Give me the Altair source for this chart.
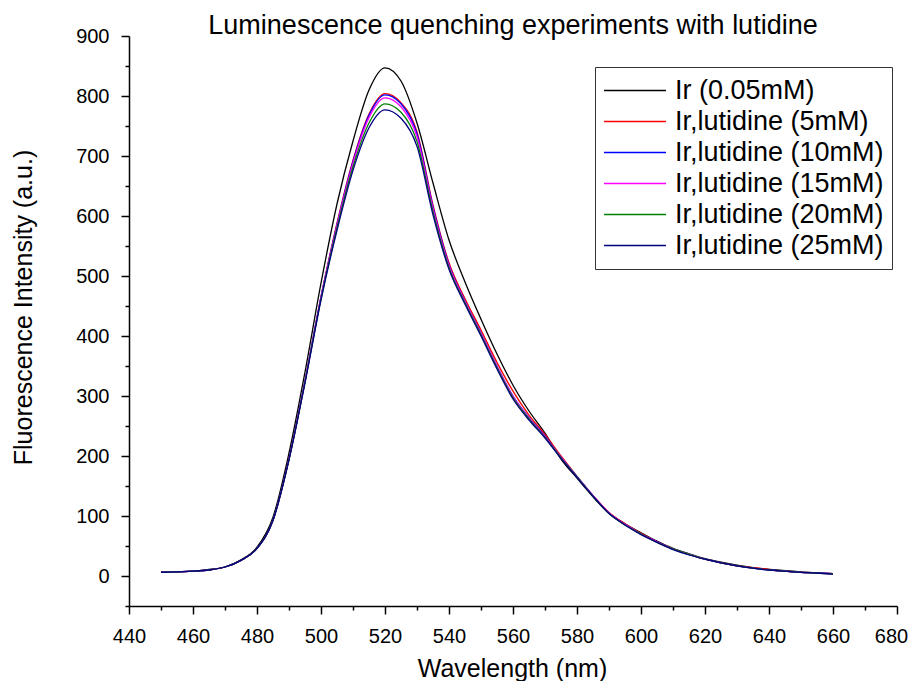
import altair as alt
import pandas as pd

# ---- data ----
wavelength = [450, 455, 460, 465, 470, 475, 480, 485, 490, 495,
              500, 505, 510, 515, 520, 525, 530, 535, 540, 545,
              550, 555, 560, 565, 570, 575, 580, 585, 590, 595,
              600, 605, 610, 615, 620, 625, 630, 635, 640, 645,
              650, 655, 660]

ir_005 = [7, 7, 8, 11, 15, 27, 48, 98, 205, 340,
          488, 620, 725, 810, 847, 825, 755, 655, 560, 490,
          428, 370, 318, 275, 238, 195, 163, 132, 105, 87,
          72, 58, 46, 37, 29, 23, 18, 14, 11, 9,
          7, 5, 4]
lut_5 = [6, 7, 8, 10, 15, 26, 46, 93, 195, 325,
         465, 588, 693, 770, 804, 789, 740, 618, 522, 462,
         410, 356, 308, 268, 236, 200, 166, 134, 106, 87,
         71, 57, 45, 36, 28, 22, 17, 14, 11, 8,
         6, 5, 4]
lut_10 = [6, 7, 8, 10, 15, 26, 46, 93, 195, 325,
          465, 586, 691, 768, 802, 787, 737, 615, 519, 458,
          405, 350, 300, 264, 233, 198, 166, 134, 105, 86,
          70, 57, 45, 36, 28, 22, 17, 13, 10, 8,
          6, 5, 4]
lut_15 = [6, 7, 8, 10, 15, 26, 46, 93, 195, 324,
          464, 584, 688, 764, 797, 782, 732, 612, 517, 457,
          404, 349, 299, 263, 232, 198, 165, 134, 105, 86,
          70, 57, 45, 36, 28, 22, 17, 13, 10, 8,
          6, 5, 4]
lut_20 = [6, 7, 8, 10, 15, 26, 46, 93, 194, 323,
          462, 580, 682, 755, 787, 773, 724, 607, 514, 455,
          402, 347, 297, 262, 231, 197, 165, 133, 104, 85,
          70, 56, 45, 36, 28, 22, 17, 13, 10, 8,
          6, 5, 4]
lut_25 = [6, 7, 8, 10, 15, 26, 46, 93, 194, 322,
          460, 576, 676, 747, 777, 763, 716, 602, 511, 453,
          400, 345, 295, 260, 230, 196, 164, 133, 104, 85,
          69, 56, 44, 35, 28, 22, 17, 13, 10, 8,
          6, 5, 3]

series_names = ["Ir (0.05mM)", "Ir,lutidine (5mM)", "Ir,lutidine (10mM)",
                "Ir,lutidine (15mM)", "Ir,lutidine (20mM)", "Ir,lutidine (25mM)"]
series_values = [ir_005, lut_5, lut_10, lut_15, lut_20, lut_25]
colors = ["#000000", "#FF0000", "#0000FF", "#FF00FF", "#008000", "#000080"]

x_ticks = [440, 450, 460, 470, 480, 490, 500, 510, 520, 530, 540, 550, 560,
           570, 580, 590, 600, 610, 620, 630, 640, 650, 660, 670, 680]
y_ticks = [-50, 0, 50, 100, 150, 200, 250, 300, 350, 400, 450, 500, 550,
           600, 650, 700, 750, 800, 850, 900]

rows = []
for order, (name, vals) in enumerate(zip(series_names, series_values)):
    for w, v in zip(wavelength, vals):
        rows.append({"wavelength": w, "intensity": v, "series": name, "k": order})
df = pd.DataFrame(rows)

FONT = "Liberation Sans"

x_axis = alt.Axis(
    values=x_ticks,
    labelExpr="datum.value % 20 === 0 ? datum.label : ''",
    title="Wavelength (nm)",
    titleX=383, titleY=70, titleBaseline="alphabetic", titleAlign="center",
    tickSize={"condition": {"test": "datum.value % 20 === 0", "value": 8}, "value": 4},
    labelOffset={"condition": {"test": "datum.value === 680", "value": -6}, "value": 0},
    labelPadding=12,
    labelFlush=False,
    labelOverlap=False,
    grid=False,
)
y_axis = alt.Axis(
    values=y_ticks,
    labelExpr="datum.value % 100 === 0 ? datum.label : ''",
    title="Fluorescence Intensity (a.u.)",
    titleX=-98, titleY=271, titleAngle=270, titleBaseline="alphabetic", titleAlign="center",
    tickSize={"condition": {"test": "datum.value % 100 === 0", "value": 8}, "value": 4},
    labelPadding=12,
    labelFlush=False,
    labelOverlap=False,
    grid=False,
)

chart = alt.Chart(df).mark_line(strokeWidth=1.3, interpolate="monotone").encode(
    x=alt.X("wavelength:Q", scale=alt.Scale(domain=[440, 680], nice=False, zero=False), axis=x_axis),
    y=alt.Y("intensity:Q", scale=alt.Scale(domain=[-50, 900], nice=False, zero=False), axis=y_axis),
    color=alt.Color(
        "series:N",
        scale=alt.Scale(domain=series_names, range=colors),
        legend=alt.Legend(
            orient="none", legendX=466, legendY=31, title=None,
            symbolType="stroke", symbolSize=3844, symbolStrokeWidth=1.5,
            labelFont=FONT, labelFontSize=27, labelColor="black", labelOffset=8,
            labelLimit=0, padding=8, rowPadding=0, clipHeight=31,
            strokeColor="#333333", fillColor="white",
        ),
    ),
    detail="k:O",
).properties(
    width=768,
    height=570,
    title=alt.TitleParams(
        "Luminescence quenching experiments with lutidine",
        font=FONT, fontSize=27, fontWeight="normal", color="black",
        anchor="middle", frame="group", offset=-14,
    ),
    autosize=alt.AutoSizeParams(type="none"),
    padding={"left": 121, "top": 28, "right": 12, "bottom": 75},
).configure_view(stroke=None).configure_axis(
    domainColor="black", domainWidth=1.5, tickColor="black", tickWidth=1.5,
    labelFont=FONT, labelFontSize=20, labelColor="black",
    titleFont=FONT, titleFontSize=25, titleFontWeight="normal", titleColor="black",
)

chart.save("out.html", embed_options={"renderer": "svg", "actions": False})
